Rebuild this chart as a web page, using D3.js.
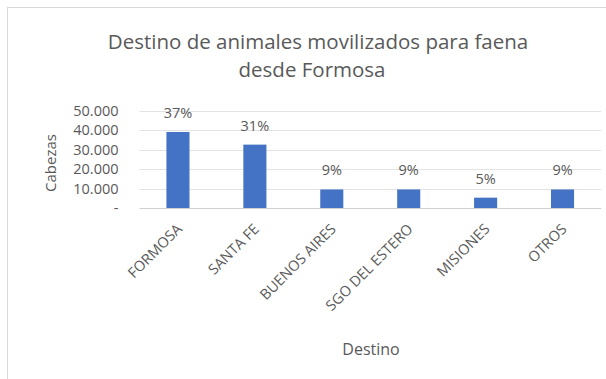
<!DOCTYPE html>
<html><head><meta charset="utf-8">
<script src="https://cdn.jsdelivr.net/npm/d3@7"></script>
<style>body{margin:0;background:#fff}svg{display:block}text{font-family:"Open Sans",sans-serif}</style>
</head><body><svg id="c" width="606" height="379"></svg>
<script>
const categories = ["FORMOSA","SANTA FE","BUENOS AIRES","SGO DEL ESTERO","MISIONES","OTROS"];
const values = [39000, 32500, 9500, 9500, 5300, 9500];
const pctLabels = ["37%","31%","9%","9%","5%","9%"];
const yTicks = [0,10000,20000,30000,40000,50000];

const svg = d3.select("#c");
const gray = "#595959";
svg.append("rect").attr("x",7.5).attr("y",7.5).attr("width",620).attr("height",400).attr("fill","none").attr("stroke","#d9d9d9");

const x = d3.scaleBand().domain(categories).range([139.5,601]).paddingInner(0.7).paddingOuter(0.35);
const y = d3.scaleLinear().domain([0,50000]).range([208,110.5]);

svg.append("g").selectAll("line").data(yTicks).join("line")
  .attr("x1",139.5).attr("x2",601).attr("y1",d=>Math.round(y(d))+0.5).attr("y2",d=>Math.round(y(d))+0.5)
  .attr("stroke",(d)=>d===0?"#d0d0d0":"#e3e3e3").attr("stroke-width",1);

const yAxis = svg.append("g").attr("transform","translate(139.5,0)")
  .call(d3.axisLeft(y).tickValues(yTicks).tickSize(0).tickPadding(21)
    .tickFormat(d=> d===0 ? "-" : d3.format(",")(d).replace(/,/g,".")));
yAxis.select(".domain").remove();
yAxis.selectAll("text").attr("fill",gray).style("font-size","14.5px").style("font-family","'Open Sans',sans-serif");

svg.append("g").selectAll("rect").data(values).join("rect")
  .attr("x",(d,i)=>x(categories[i])).attr("width",x.bandwidth())
  .attr("y",d=>y(d)).attr("height",d=>y(0)-y(d)).attr("fill","#4472c4");

svg.append("g").selectAll("text").data(values).join("text")
  .attr("x",(d,i)=>x(categories[i])+x.bandwidth()/2).attr("y",d=>y(d)-14)
  .attr("text-anchor","middle").attr("fill",gray).style("font-size","14.5px").text((d,i)=>pctLabels[i]);

const xAxis = svg.append("g").attr("transform","translate(0,208)")
  .call(d3.axisBottom(x).tickSize(0).tickPadding(0));
xAxis.select(".domain").remove();
xAxis.selectAll("text").attr("fill",gray).style("font-size","14.5px").style("font-family","'Open Sans',sans-serif")
  .attr("text-anchor","end").attr("dy",null).attr("y",0)
  .attr("transform","translate(5,22) rotate(-45)");

svg.append("text").attr("x",318).attr("y",49).attr("text-anchor","middle").attr("fill",gray).style("font-size","20.5px")
  .text("Destino de animales movilizados para faena");
svg.append("text").attr("x",312).attr("y",77).attr("text-anchor","middle").attr("fill",gray).style("font-size","20.5px")
  .text("desde Formosa");

svg.append("text").attr("transform","translate(56,163) rotate(-90)").attr("text-anchor","middle").attr("fill",gray).style("font-size","15px").text("Cabezas");
svg.append("text").attr("x",371).attr("y",355).attr("text-anchor","middle").attr("fill",gray).style("font-size","16px").text("Destino");
</script></body></html>
